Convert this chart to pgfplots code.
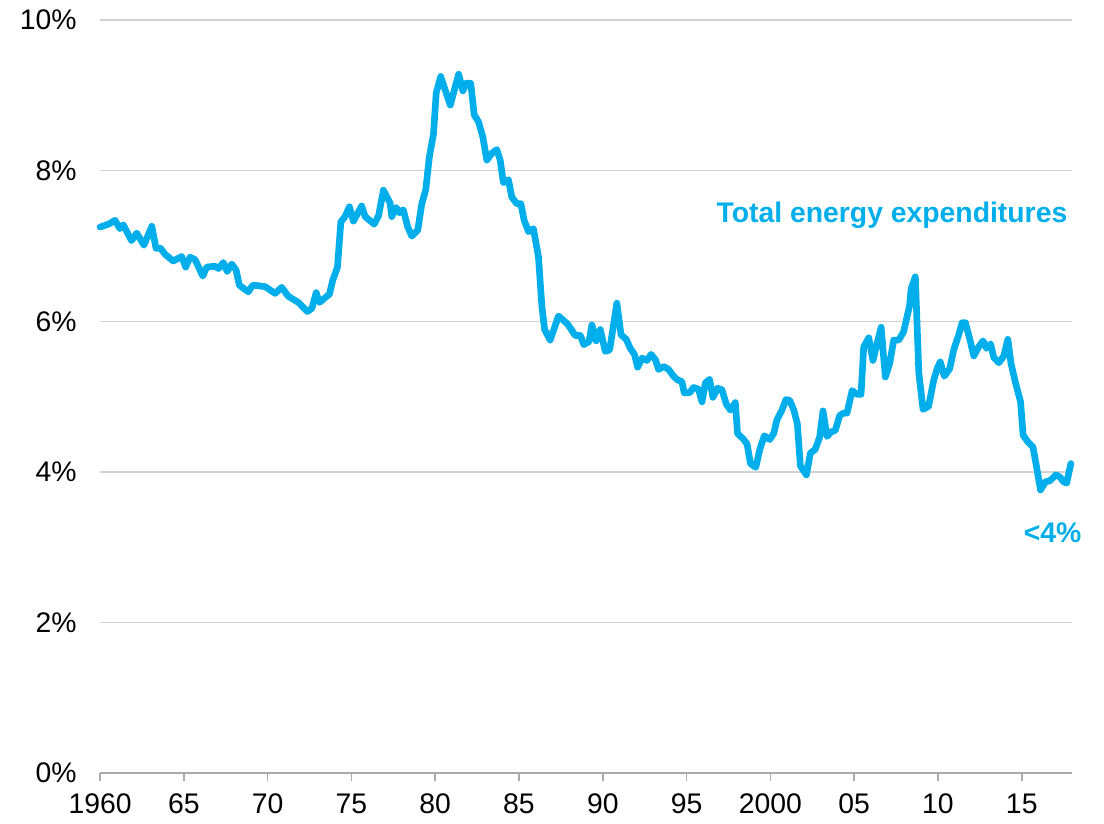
\documentclass[border=0pt]{standalone}
\usepackage{fontspec}
\setmainfont{Liberation Sans}
\usepackage{pgfplots}
\pgfplotsset{compat=1.18}
\usepackage{pgfplotstable}

\definecolor{energy}{RGB}{0,174,235}
\definecolor{gridgray}{RGB}{210,210,210}
\definecolor{axisgray}{RGB}{170,170,170}

% energy expenditures as share of spending (%)
\pgfplotstableread{
year value
1960.00 7.25
1960.51 7.29
1960.89 7.34
1961.19 7.23
1961.39 7.28
1961.88 7.07
1962.19 7.17
1962.62 7.01
1963.09 7.26
1963.34 6.97
1963.61 6.97
1963.88 6.89
1964.37 6.80
1964.87 6.86
1965.11 6.72
1965.37 6.85
1965.67 6.82
1966.13 6.60
1966.37 6.72
1966.87 6.73
1967.07 6.70
1967.36 6.78
1967.59 6.66
1967.86 6.76
1968.12 6.68
1968.31 6.48
1968.85 6.39
1969.11 6.48
1969.85 6.46
1970.45 6.37
1970.84 6.45
1971.24 6.33
1971.84 6.25
1972.37 6.13
1972.64 6.17
1972.90 6.38
1973.09 6.25
1973.69 6.36
1973.88 6.54
1974.17 6.72
1974.37 7.32
1974.62 7.39
1974.88 7.52
1975.12 7.33
1975.61 7.53
1975.82 7.39
1976.36 7.29
1976.62 7.40
1976.91 7.74
1977.31 7.57
1977.41 7.39
1977.67 7.51
1977.87 7.44
1978.10 7.48
1978.35 7.26
1978.60 7.13
1978.96 7.21
1979.20 7.56
1979.44 7.75
1979.65 8.18
1979.90 8.49
1980.06 9.03
1980.33 9.25
1980.60 9.07
1980.90 8.87
1981.19 9.11
1981.40 9.28
1981.65 9.06
1981.85 9.16
1982.12 9.16
1982.33 8.74
1982.58 8.65
1982.84 8.45
1983.08 8.14
1983.38 8.23
1983.67 8.28
1983.88 8.14
1984.07 7.84
1984.37 7.88
1984.57 7.65
1984.87 7.56
1985.11 7.56
1985.31 7.34
1985.57 7.19
1985.86 7.23
1986.16 6.86
1986.37 6.19
1986.53 5.89
1986.86 5.75
1987.36 6.07
1987.91 5.96
1988.36 5.81
1988.66 5.81
1988.87 5.69
1989.18 5.73
1989.35 5.95
1989.61 5.74
1989.85 5.89
1990.15 5.60
1990.41 5.62
1990.64 5.95
1990.84 6.24
1991.09 5.82
1991.40 5.76
1991.64 5.64
1991.89 5.56
1992.08 5.39
1992.34 5.51
1992.63 5.48
1992.88 5.56
1993.14 5.49
1993.33 5.36
1993.63 5.40
1993.93 5.36
1994.22 5.27
1994.47 5.22
1994.72 5.20
1994.86 5.05
1995.18 5.05
1995.42 5.12
1995.71 5.10
1995.92 4.93
1996.12 5.18
1996.37 5.23
1996.57 4.99
1996.85 5.11
1997.11 5.09
1997.37 4.90
1997.62 4.82
1997.91 4.92
1998.04 4.51
1998.37 4.44
1998.61 4.37
1998.81 4.11
1999.13 4.06
1999.37 4.30
1999.64 4.48
1999.96 4.43
2000.20 4.51
2000.39 4.69
2000.69 4.82
2000.93 4.96
2001.15 4.95
2001.40 4.82
2001.61 4.64
2001.79 4.08
2002.15 3.96
2002.39 4.25
2002.68 4.30
2002.94 4.46
2003.14 4.81
2003.38 4.47
2003.62 4.53
2003.87 4.55
2004.14 4.75
2004.37 4.78
2004.57 4.78
2004.88 5.08
2005.17 5.03
2005.41 5.03
2005.57 5.66
2005.87 5.78
2006.12 5.48
2006.36 5.70
2006.61 5.92
2006.86 5.26
2007.12 5.44
2007.36 5.75
2007.66 5.75
2007.95 5.86
2008.31 6.21
2008.40 6.43
2008.65 6.59
2008.86 5.31
2009.11 4.83
2009.44 4.87
2009.75 5.22
2009.98 5.39
2010.14 5.46
2010.38 5.27
2010.70 5.37
2010.94 5.62
2011.24 5.82
2011.44 5.98
2011.64 5.98
2011.89 5.77
2012.14 5.54
2012.43 5.66
2012.69 5.74
2012.90 5.64
2013.14 5.70
2013.33 5.52
2013.63 5.45
2013.93 5.54
2014.17 5.76
2014.36 5.44
2014.63 5.18
2014.93 4.93
2015.08 4.49
2015.36 4.40
2015.67 4.33
2015.88 4.07
2016.12 3.76
2016.42 3.87
2016.67 3.88
2017.04 3.96
2017.29 3.93
2017.48 3.87
2017.68 3.85
2017.93 4.11
}\energydata

\begin{document}
\begin{tikzpicture}
\begin{axis}[
    width=349.9pt, height=271.1pt,
    scale only axis,
    clip=false,
    xmin=1960, xmax=2018,
    ymin=0, ymax=10,
    axis x line*=bottom,
    axis y line*=left,
    y axis line style={draw=none},
    ytick style={draw=none},
    x axis line style={draw=axisgray, line width=0.6pt},
    xtick style={draw=axisgray, line width=0.6pt},
    tick align=outside,
    major tick length=2.9pt,
    ymajorgrids=true,
    grid style={draw=gridgray, line width=0.5pt},
    xtick={1960,1965,...,2015},
    xticklabels={1960,65,70,75,80,85,90,95,2000,05,10,15},
    ytick={0,2,4,6,8,10},
    yticklabels={0\%,2\%,4\%,6\%,8\%,10\%},
    tick label style={font=\fontsize{10.2}{12}\selectfont},
    yticklabel style={xshift=-2pt},
    xticklabel style={yshift=-1pt},
]
\addplot[color=energy, line width=2.4pt, line join=round, line cap=round]
    table[x=year, y=value] {\energydata};

\node[anchor=east, inner sep=0pt, text=energy, font=\bfseries\fontsize{10.2}{12}\selectfont]
    at (axis cs:2017.75,7.41) {Total energy expenditures};
\node[anchor=center, text=energy, font=\bfseries\fontsize{10.2}{12}\selectfont]
    at (axis cs:2016.84,3.19) {<4\%};

% keep the reference's margins
\path[draw=none] (rel axis cs:-0.1029,-0.0651) rectangle (rel axis cs:1.0329,1.0266);
\end{axis}
\end{tikzpicture}
\end{document}
